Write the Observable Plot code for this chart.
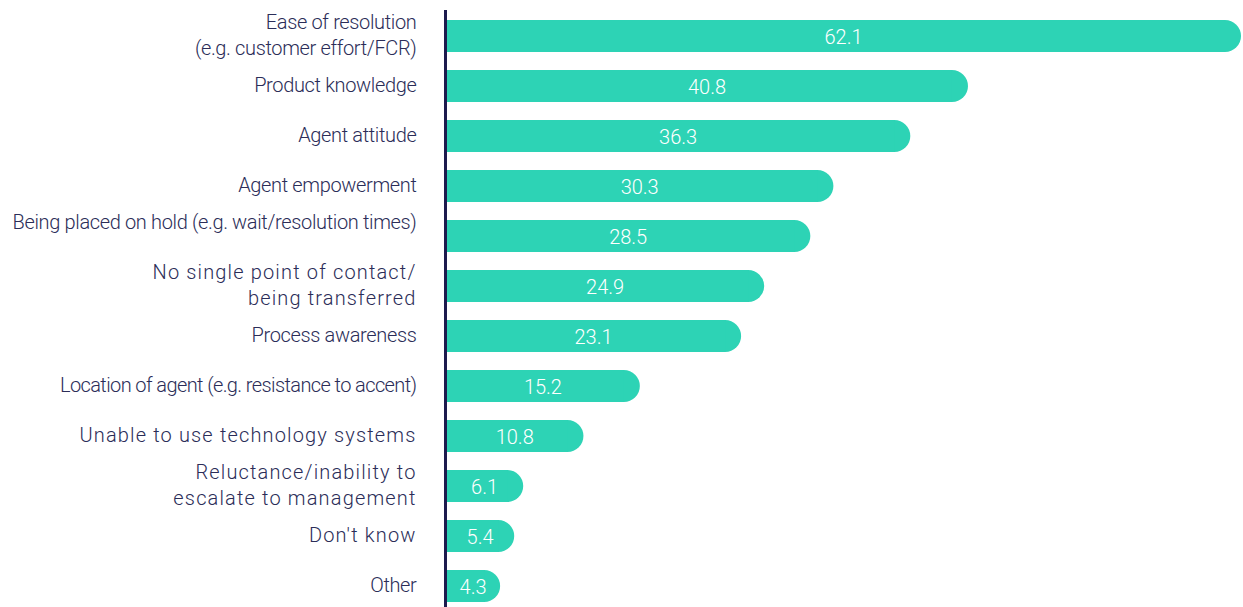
<!DOCTYPE html>
<html>
<head>
<meta charset="utf-8">
<script src="https://cdn.jsdelivr.net/npm/d3@7"></script>
<script src="https://cdn.jsdelivr.net/npm/@observablehq/plot@0.6"></script>
<style>
  html, body { margin: 0; padding: 0; background: #fff; }
  #chart svg { display: block; font-family: "Roboto Light", Roboto, "Noto Sans", sans-serif; }
</style>
</head>
<body>
<div id="chart"></div>
<script>
const categories = [
  "Ease of resolution\n(e.g. customer effort/FCR)",
  "Product knowledge",
  "Agent attitude",
  "Agent empowerment",
  "Being placed on hold (e.g. wait/resolution times)\n",
  "No single point of contact/\nbeing transferred",
  "Process awareness",
  "Location of agent (e.g. resistance to accent)",
  "Unable to use technology systems",
  "Reluctance/inability to\nescalate to management",
  "Don't know",
  "Other"
];
const values = [62.1, 40.8, 36.3, 30.3, 28.5, 24.9, 23.1, 15.2, 10.8, 6.1, 5.4, 4.3];

const data = categories.map((c, i) => ({category: c, value: values[i]}));

// labels rendered in a wider, letter-spaced style in the original
const wideLabels = new Set([
  "No single point of contact/\nbeing transferred",
  "Unable to use technology systems",
  "Reluctance/inability to\nescalate to management",
  "Don't know"
]);
const tightLabels = new Set([
  "Location of agent (e.g. resistance to accent)"
]);

const teal = "#2dd3b5";
const navy = "#2b2d58";

const chart = Plot.plot({
  width: 1243,
  height: 607,
  marginLeft: 445,
  marginRight: 2,
  marginTop: 10,
  marginBottom: 0,
  x: {domain: [0, d3.max(values)], axis: null},
  y: {domain: categories, range: [19, 603], paddingInner: 0.3625, paddingOuter: 0, axis: null},
  marks: [
    Plot.barX(data, {y: "category", x: "value", fill: teal, rx: 16}),
    Plot.barX(data, {y: "category", x: "value", fill: teal, insetRight: 16}),
    Plot.ruleX([0], {stroke: "#1d1b4e", strokeWidth: 3}),
    Plot.text(data, {
      y: "category", x: 0, text: "category",
      textAnchor: "end", dx: -29, dy: -3, lineHeight: 1.3,
      fontSize: 20, fontWeight: 300, fill: navy
    }),
    Plot.text(data, {
      y: "category", x: d => d.value / 2, text: d => d.value.toFixed(1),
      dy: 1, fontSize: 20, fontWeight: 300, fill: "white"
    })
  ]
});

// per-label letter spacing to mimic the mixed typography of the source
d3.select(chart).selectAll("g[aria-label='text']").each(function(_, gi) {
  if (gi !== 0) return;
  d3.select(this).selectAll("text").each(function(d) {
    const label = categories[d];
    const ls = wideLabels.has(label) ? "1.15px" : tightLabels.has(label) ? "-0.6px" : "-0.35px";
    d3.select(this).attr("letter-spacing", ls);
  });
});

document.getElementById("chart").appendChild(chart);
</script>
</body>
</html>
